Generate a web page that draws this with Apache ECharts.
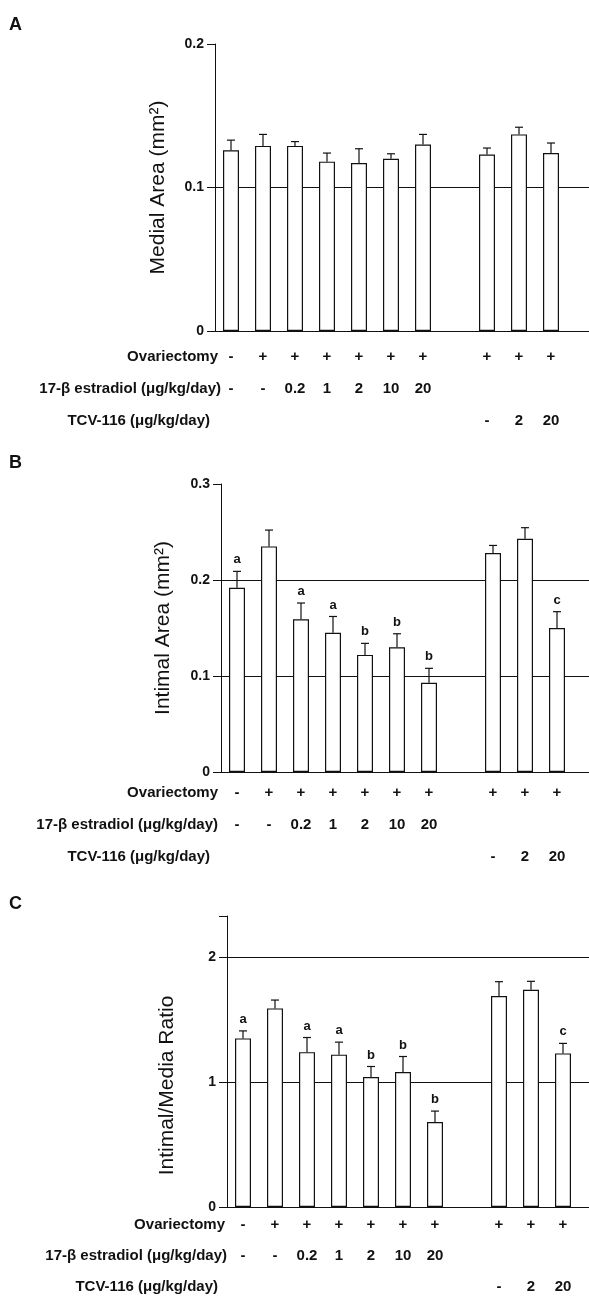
<!DOCTYPE html>
<html>
<head>
<meta charset="utf-8">
<script src="https://cdn.jsdelivr.net/npm/echarts@6/dist/echarts.min.js"></script>
<style>
  html, body { margin: 0; padding: 0; background: #fff; }
  #chart { width: 589px; height: 1302px; }
</style>
</head>
<body>
<div id="chart"></div>
<script>
// groups (slot 8 is the gap between the two groups, last slot pads the grid to the right edge)
const slots = ['1', '2', '3', '4', '5', '6', '7', 'gap', '8', '9', '10', 'pad'];
const ovariectomy = ['-', '+', '+', '+', '+', '+', '+', '', '+', '+', '+', ''];
const estradiol = ['-', '-', '0.2', '1', '2', '10', '20', '', '', '', '', ''];
const tcv = ['', '', '', '', '', '', '', '', '-', '2', '20', ''];
const rowTitles = ['Ovariectomy', '17-\u03b2 estradiol (\u03bcg/kg/day)', 'TCV-116 (\u03bcg/kg/day)'];

// A: medial area
const medialArea = [0.126, 0.129, 0.129, 0.118, 0.117, 0.120, 0.130, '-', 0.123, 0.137, 0.124, '-'];
const medialErr = [0.007, 0.008, 0.003, 0.006, 0.010, 0.0035, 0.007, '-', 0.0045, 0.005, 0.007, '-'];

// B: intimal area
const intimalArea = [0.192, 0.235, 0.159, 0.145, 0.122, 0.130, 0.093, '-', 0.228, 0.243, 0.150, '-'];
const intimalErr = [0.017, 0.017, 0.017, 0.017, 0.012, 0.014, 0.015, '-', 0.008, 0.0115, 0.017, '-'];
const intimalSig = ['a', '', 'a', 'a', 'b', 'b', 'b', '', '', '', 'c', ''];

// C: intimal / media ratio
const ratio = [1.35, 1.59, 1.24, 1.22, 1.04, 1.08, 0.68, '-', 1.69, 1.74, 1.23, '-'];
const ratioErr = [0.06, 0.067, 0.117, 0.10, 0.085, 0.125, 0.088, '-', 0.114, 0.067, 0.08, '-'];
const ratioSig = ['a', '', 'a', 'a', 'b', 'b', 'b', '', '', '', 'c', ''];

const FONT = '"Liberation Sans", Arial, Helvetica, sans-serif';
const INK = '#111';
const CLEAR = 'rgba(0,0,0,0)';

const panels = [
  { letter: 'A', letterY: 25, left: 215, top: 44, height: 287, max: 0.2, interval: 0.1, digits: 1,
    name: 'Medial Area (mm\u00b2)', nameGap: 46, namePad: [0, 0, 0, 0],
    values: medialArea, errors: medialErr, sig: null,
    split: [CLEAR, INK, CLEAR], margin: 10, lineH: 32, titleRight: [218, 221, 210] },
  { letter: 'B', letterY: 463, left: 221, top: 484, height: 288, max: 0.3, interval: 0.1, digits: 1,
    name: 'Intimal Area (mm\u00b2)', nameGap: 47, namePad: [0, 0, 0, 0],
    values: intimalArea, errors: intimalErr, sig: intimalSig,
    split: [CLEAR, INK, INK, CLEAR], margin: 5, lineH: 32, titleRight: [218, 218, 210] },
  { letter: 'C', letterY: 904, left: 227, top: 916, height: 291, max: 2.33, interval: 1, digits: 0,
    name: 'Intimal/Media Ratio', nameGap: 49, namePad: [0, 48, 0, 0],
    values: ratio, errors: ratioErr, sig: ratioSig,
    split: [CLEAR, INK, INK, CLEAR], margin: 2, lineH: 31, titleRight: [225, 227, 218] }
];

const SLOT = 32;
const grid = [], xAxis = [], yAxis = [], series = [], graphic = [];

panels.forEach((p, i) => {
  grid.push({
    left: p.left, top: p.top, height: p.height,
    width: SLOT * slots.length,
    outerBoundsMode: 'none', containLabel: false
  });

  xAxis.push({
    type: 'category', gridIndex: i, data: slots,
    axisLine: { lineStyle: { color: INK, width: 1 } },
    axisTick: { show: false },
    axisLabel: {
      interval: 0, margin: p.margin, lineHeight: p.lineH,
      fontFamily: FONT, fontSize: 15, fontWeight: 'bold', color: INK,
      formatter: (v, idx) => [ovariectomy[idx], estradiol[idx], tcv[idx]].map(s => s || ' ').join('\n')
    }
  });

  yAxis.push({
    type: 'value', gridIndex: i, min: 0, max: p.max, interval: p.interval,
    name: p.name, nameLocation: 'middle', nameGap: p.nameGap,
    nameTextStyle: { fontFamily: FONT, fontSize: 21, color: INK, padding: p.namePad },
    axisLine: { show: true, lineStyle: { color: INK, width: 1 } },
    axisTick: { show: true, inside: false, length: 8, lineStyle: { color: INK } },
    axisLabel: {
      margin: 11, fontFamily: FONT, fontSize: 14, fontWeight: 'bold', color: INK,
      formatter: v => {
        const k = v / p.interval;
        if (Math.abs(k - Math.round(k)) > 1e-6) return '';
        return v === 0 ? '0' : v.toFixed(p.digits);
      }
    },
    splitLine: { show: true, showMaxLine: false, lineStyle: { color: p.split, width: 1 } }
  });

  series.push({
    type: 'bar', xAxisIndex: i, yAxisIndex: i,
    data: p.values, barWidth: 16,
    itemStyle: { color: '#fff', borderColor: INK, borderWidth: 1.2 }
  });

  const errData = [];
  p.values.forEach((v, k) => {
    if (v !== '-') errData.push([k, v, p.errors[k], p.sig ? p.sig[k] : '']);
  });
  series.push({
    type: 'custom', xAxisIndex: i, yAxisIndex: i, z: 5,
    data: errData.map(d => [d[0], d[1], d[2]]),
    encode: { x: 0, y: 1 },
    renderItem: (params, api) => {
      const d = errData[params.dataIndex];
      const base = api.coord([d[0], d[1]]);
      const tip = api.coord([d[0], d[1] + d[2]]);
      const stroke = { stroke: INK, lineWidth: 1.2 };
      const children = [
        { type: 'line', shape: { x1: base[0], y1: base[1], x2: tip[0], y2: tip[1] }, style: stroke },
        { type: 'line', shape: { x1: tip[0] - 4, y1: tip[1], x2: tip[0] + 4, y2: tip[1] }, style: stroke }
      ];
      if (d[3]) {
        children.push({
          type: 'text',
          style: { text: d[3], x: tip[0], y: tip[1] - 5, align: 'center', verticalAlign: 'bottom',
                   font: 'bold 13px ' + FONT, fill: INK }
        });
      }
      return { type: 'group', children };
    }
  });

  graphic.push({
    type: 'text', x: 9, y: p.letterY,
    style: { text: p.letter, font: 'bold 18px ' + FONT, fill: INK, verticalAlign: 'middle' }
  });

  const baseline = p.top + p.height;
  rowTitles.forEach((t, r) => {
    graphic.push({
      type: 'text', x: p.titleRight[r], y: baseline + p.margin + p.lineH * (r + 0.5),
      style: { text: t, font: 'bold 15px ' + FONT, fill: INK, align: 'right', verticalAlign: 'middle' }
    });
  });
});

const chart = echarts.init(document.getElementById('chart'));
chart.setOption({
  animation: false,
  backgroundColor: '#fff',
  grid, xAxis, yAxis, series, graphic
});
</script>
</body>
</html>
